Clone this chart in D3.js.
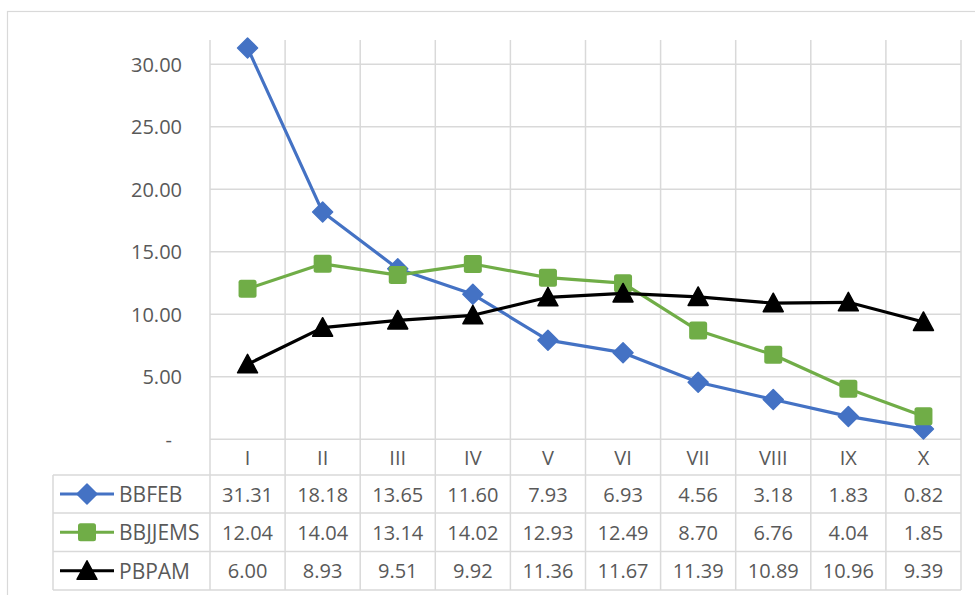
<!DOCTYPE html>
<html>
<head>
<meta charset="utf-8">
<script src="https://cdn.jsdelivr.net/npm/d3@7"></script>
<style>
  html, body { margin: 0; padding: 0; background: #fff; }
  svg text { font-family: "Open Sans", "Noto Sans", sans-serif; fill: #595959; }
</style>
</head>
<body>
<svg id="chart" width="975" height="595"></svg>
<script>
// Periods on the x axis
const categories = ["I", "II", "III", "IV", "V", "VI", "VII", "VIII", "IX", "X"];
// Series values, one array per series
const bbfeb   = [31.31, 18.18, 13.65, 11.60, 7.93, 6.93, 4.56, 3.18, 1.83, 0.82];
const bbjjems = [12.04, 14.04, 13.14, 14.02, 12.93, 12.49, 8.70, 6.76, 4.04, 1.85];
const pbpam   = [6.00, 8.93, 9.51, 9.92, 11.36, 11.67, 11.39, 10.89, 10.96, 9.39];
// Y axis ticks
const yTicks = [0, 5, 10, 15, 20, 25, 30];

const seriesNames = ["BBFEB", "BBJJEMS", "PBPAM"];
const seriesColors = ["#4472C4", "#70AD47", "#000000"];
const seriesShapes = ["diamond", "square", "triangle"];
const series = seriesNames.map((name, i) => ({
  name, color: seriesColors[i], shape: seriesShapes[i],
  values: [bbfeb, bbjjems, pbpam][i]
}));

const svg = d3.select("#chart");
const grid = "#d9d9d9";

// Outer chart border
svg.append("rect")
  .attr("x", 7.5).attr("y", 11.5).attr("width", 980).attr("height", 600)
  .attr("fill", "none").attr("stroke", grid).attr("stroke-width", 1.2);

const plotLeft = 210, plotRight = 961;
const x = d3.scaleBand().domain(categories).range([plotLeft, plotRight]);
const y = d3.scaleLinear().domain([0, 30]).range([439.3, 64.3]);
const yMax = 31.95;
const plotTop = y(yMax), plotBottom = y(0);

// Table geometry
const tableLeft = 53;
const rowEdges = [plotBottom, 475, 513, 551.5, 590];

// Horizontal gridlines
svg.append("g").selectAll("line").data(yTicks).join("line")
  .attr("x1", plotLeft).attr("x2", plotRight)
  .attr("y1", d => y(d)).attr("y2", d => y(d))
  .attr("stroke", grid).attr("stroke-width", 1.5);

// Vertical gridlines: through plot area and the header row, then the table
const colEdges = categories.map(c => x(c)).concat([plotRight]);
svg.append("g").selectAll("line").data(colEdges).join("line")
  .attr("x1", d => d).attr("x2", d => d)
  .attr("y1", plotTop).attr("y2", rowEdges[4])
  .attr("stroke", grid).attr("stroke-width", 1.5);

// Table horizontal lines
svg.append("g").selectAll("line").data(rowEdges.slice(1)).join("line")
  .attr("x1", tableLeft).attr("x2", plotRight)
  .attr("y1", d => d).attr("y2", d => d)
  .attr("stroke", grid).attr("stroke-width", 1.5);
svg.append("line")
  .attr("x1", tableLeft).attr("x2", tableLeft)
  .attr("y1", rowEdges[1]).attr("y2", rowEdges[4])
  .attr("stroke", grid).attr("stroke-width", 1.5);

// Y axis labels
const fmt = d => d === 0 ? "-" : d3.format(".2f")(d);
svg.append("g").selectAll("text").data(yTicks).join("text")
  .attr("x", d => d === 0 ? 172 : 182)
  .attr("y", d => y(d))
  .attr("text-anchor", "end").attr("dominant-baseline", "central")
  .attr("font-size", 20)
  .text(fmt);

// Category labels in the header row
svg.append("g").selectAll("text").data(categories).join("text")
  .attr("x", d => x(d) + x.bandwidth() / 2)
  .attr("y", (rowEdges[0] + rowEdges[1]) / 2)
  .attr("text-anchor", "middle").attr("dominant-baseline", "central")
  .attr("font-size", 20)
  .text(d => d);

// Marker symbols
function marker(sel, shape, color) {
  if (shape === "diamond") {
    sel.append("path").attr("d", "M0,-10 L10,0 L0,10 L-10,0 Z")
      .attr("fill", color).attr("stroke", color).attr("stroke-width", 1.5).attr("stroke-linejoin", "round");
  } else if (shape === "square") {
    sel.append("rect").attr("x", -9).attr("y", -9).attr("width", 18).attr("height", 18)
      .attr("rx", 2.5).attr("fill", color);
  } else {
    sel.append("path").attr("d", "M0,-10 L10,8.5 L-10,8.5 Z")
      .attr("fill", color).attr("stroke", color).attr("stroke-width", 1.5).attr("stroke-linejoin", "round");
  }
}

const line = d3.line()
  .x((d, i) => x(categories[i]) + x.bandwidth() / 2)
  .y(d => y(d));

series.forEach((s, si) => {
  svg.append("path").datum(s.values)
    .attr("d", line).attr("fill", "none")
    .attr("stroke", s.color).attr("stroke-width", 3.2).attr("stroke-linejoin", "round");
  svg.append("g").selectAll("g").data(s.values).join("g")
    .attr("transform", (d, i) => `translate(${x(categories[i]) + x.bandwidth() / 2},${y(d)})`)
    .each(function() { marker(d3.select(this), s.shape, s.color); });

  // Data table row
  const cy = (rowEdges[si + 1] + rowEdges[si + 2]) / 2;
  svg.append("line").attr("x1", 60).attr("x2", 114).attr("y1", cy).attr("y2", cy)
    .attr("stroke", s.color).attr("stroke-width", 3.2);
  marker(svg.append("g").attr("transform", `translate(87,${cy})`), s.shape, s.color);
  svg.append("text").attr("x", 119).attr("y", cy)
    .attr("dominant-baseline", "central").attr("font-size", 21).text(s.name);
  svg.append("g").selectAll("text").data(s.values).join("text")
    .attr("x", (d, i) => x(categories[i]) + x.bandwidth() / 2)
    .attr("y", cy)
    .attr("text-anchor", "middle").attr("dominant-baseline", "central")
    .attr("font-size", 20)
    .text(d => d3.format(".2f")(d));
});
</script>
</body>
</html>
